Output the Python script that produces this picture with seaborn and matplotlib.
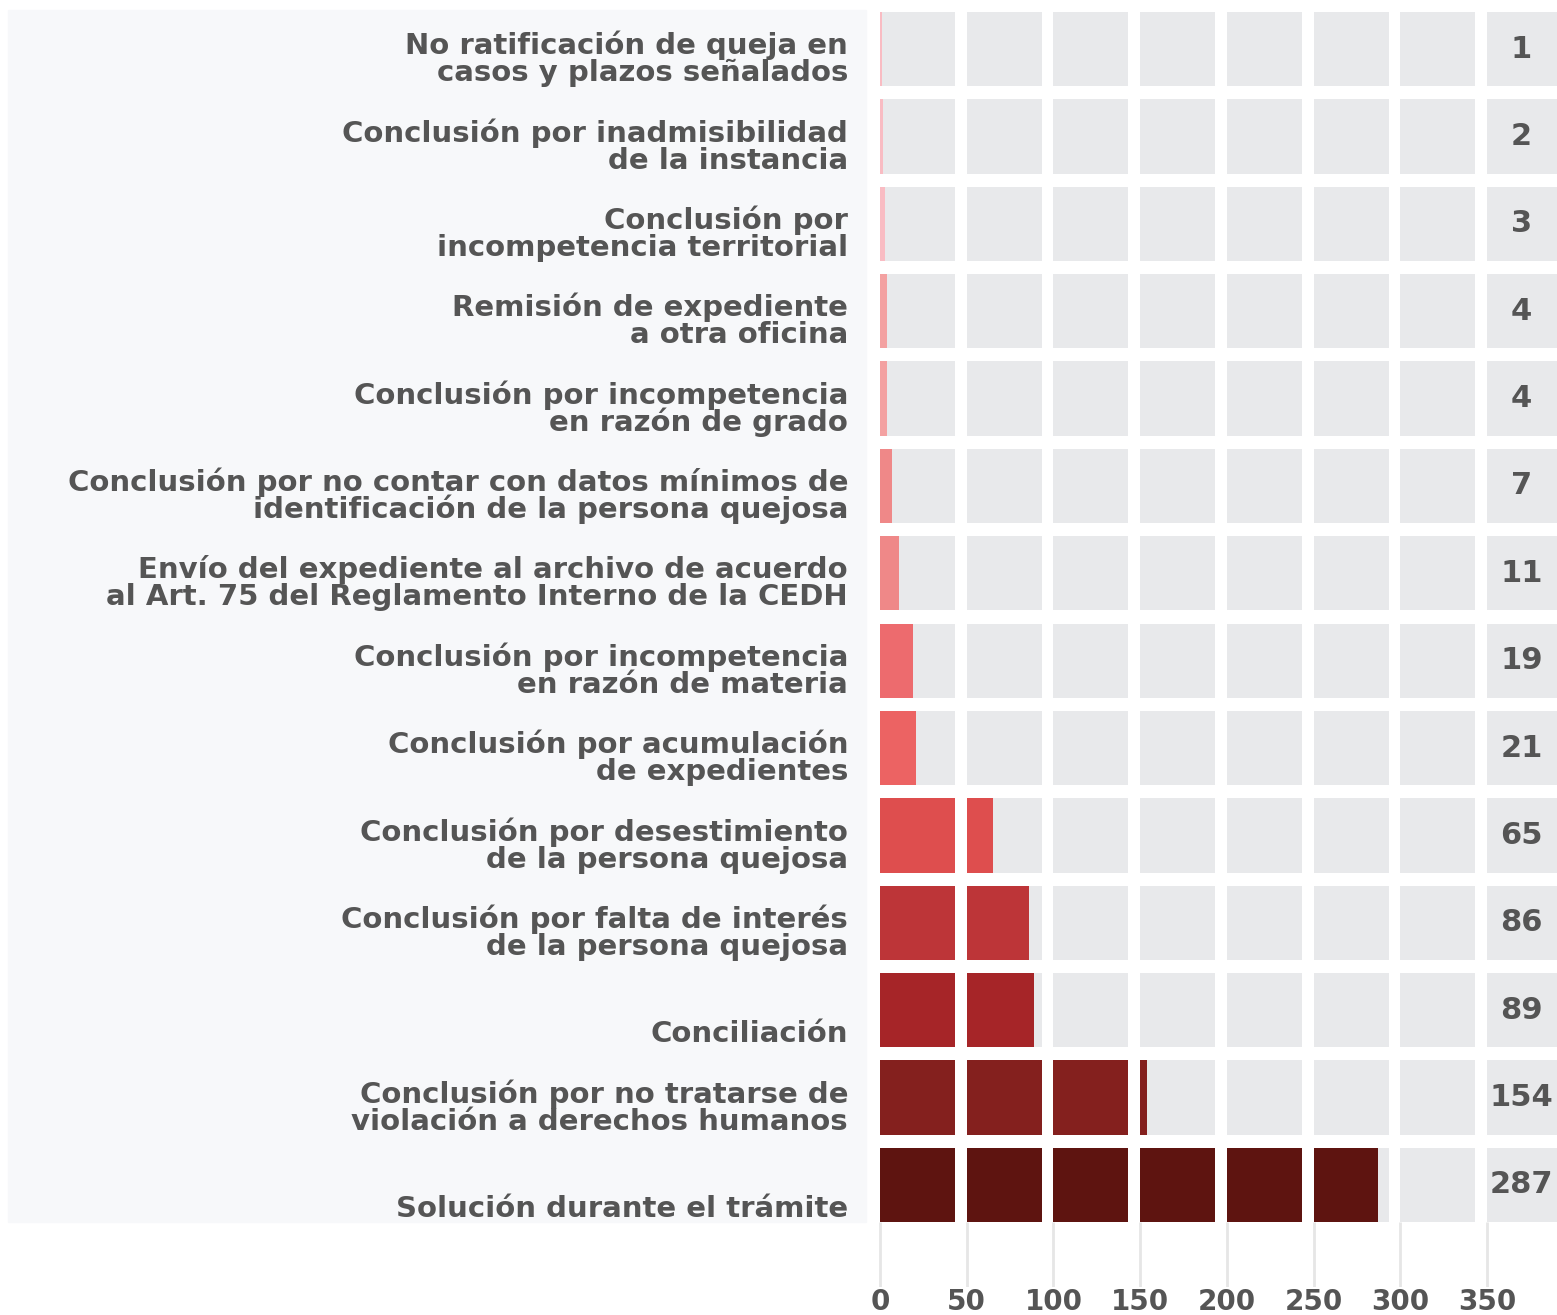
import numpy as np
import pandas as pd
import seaborn as sns
import matplotlib.pyplot as plt
from matplotlib.patches import Rectangle

sns.set_style('white')
plt.rcParams['font.family'] = ['DejaVu Sans']

categorias = [
    "No ratificación de queja en\ncasos y plazos señalados",
    "Conclusión por inadmisibilidad\nde la instancia",
    "Conclusión por\nincompetencia territorial",
    "Remisión de expediente\na otra oficina",
    "Conclusión por incompetencia\nen razón de grado",
    "Conclusión por no contar con datos mínimos de\nidentificación de la persona quejosa",
    "Envío del expediente al archivo de acuerdo\nal Art. 75 del Reglamento Interno de la CEDH",
    "Conclusión por incompetencia\nen razón de materia",
    "Conclusión por acumulación\nde expedientes",
    "Conclusión por desestimiento\nde la persona quejosa",
    "Conclusión por falta de interés\nde la persona quejosa",
    "Conciliación",
    "Conclusión por no tratarse de\nviolación a derechos humanos",
    "Solución durante el trámite",
]
valores = [1, 2, 3, 4, 4, 7, 11, 19, 21, 65, 86, 89, 154, 287]
etiquetas = ["1", "2", "3", "4", "4", "7", "11", "19", "21", "65", "86", "89", "154", "287"]
ticks = [0, 50, 100, 150, 200, 250, 300, 350]

colores = ['#f9bcc3', '#f9bcc3', '#f9bcc3', '#f3a1a1', '#f3a1a1', '#ef8888', '#ef8888',
           '#ed6b6e', '#ec6363', '#de4e4e', '#bd3538', '#a62528', '#84201e', '#5e1410']

gris = '#e8e9eb'
texto = '#555555'
df = pd.DataFrame({'cat': categorias, 'valor': valores})

fig = plt.figure(figsize=(15.57, 13.15), dpi=100)

# light panel behind the category labels
fig.patches.append(Rectangle((8 / 1557, (1315 - 1222) / 1315), (866 - 8) / 1557, (1222 - 10) / 1315,
                             transform=fig.transFigure, color='#f7f8fa', zorder=-1))

ax_bottom = 1287
ax = fig.add_axes([866 / 1557, (1315 - ax_bottom) / 1315, (1557 - 866) / 1557, ax_bottom / 1315])
ax.patch.set_alpha(0)

# gray track, then the coloured bars
sns.barplot(data=df, x=[400] * len(df), y='cat', color=gris, width=0.85, saturation=1,
            orient='h', ax=ax, linewidth=0)
sns.barplot(data=df, x='valor', y='cat', hue='cat', palette=colores, width=0.85, saturation=1,
            orient='h', ax=ax, linewidth=0, legend=False)

px_x = 1.734    # pixels per unit
px_y = 87.38    # pixels per row
xmin, xmax = -14 / px_x, 677 / px_x
ymax = -49 / px_y
ymin = 13 + (ax_bottom - 1185) / px_y
n = len(categorias)

# white gaps splitting each row into blocks of 50
for t in ticks:
    ax.fill_betweenx([ymax, n - 1 + 0.425], t + 43.3, t + 50, color='white', lw=0, zorder=5)

# short grid lines under the bars
ax.vlines(ticks, n - 1 + 0.425, ymin, color='#e6e6e6', lw=2, zorder=1)

# category labels, one line at a time, last line sitting at the row bottom
paso = 27 / px_y
for i, cat in enumerate(categorias):
    lineas = cat.split('\n')
    for k, linea in enumerate(reversed(lineas)):
        ax.text(-32 / px_x, i + 0.425 - 5 / px_y - k * paso, linea, ha='right', va='baseline',
                fontsize=21, fontweight='bold', color=texto, clip_on=False)

# value labels in the last column
for i, lab in enumerate(etiquetas):
    ax.text(370, i, lab, ha='center', va='center', fontsize=22, fontweight='bold',
            color=texto, zorder=6)

ax.set_xlim(xmin, xmax)
ax.set_ylim(ymin, ymax)
ax.set_xticks(ticks)
ax.set_xticklabels([str(t) for t in ticks], fontsize=20, fontweight='bold', color=texto)
ax.tick_params(axis='x', length=0, pad=1)
ax.set_yticks([])
ax.set_xlabel('')
ax.set_ylabel('')
sns.despine(ax=ax, left=True, bottom=True)

fig.savefig('out.png', dpi=100)
